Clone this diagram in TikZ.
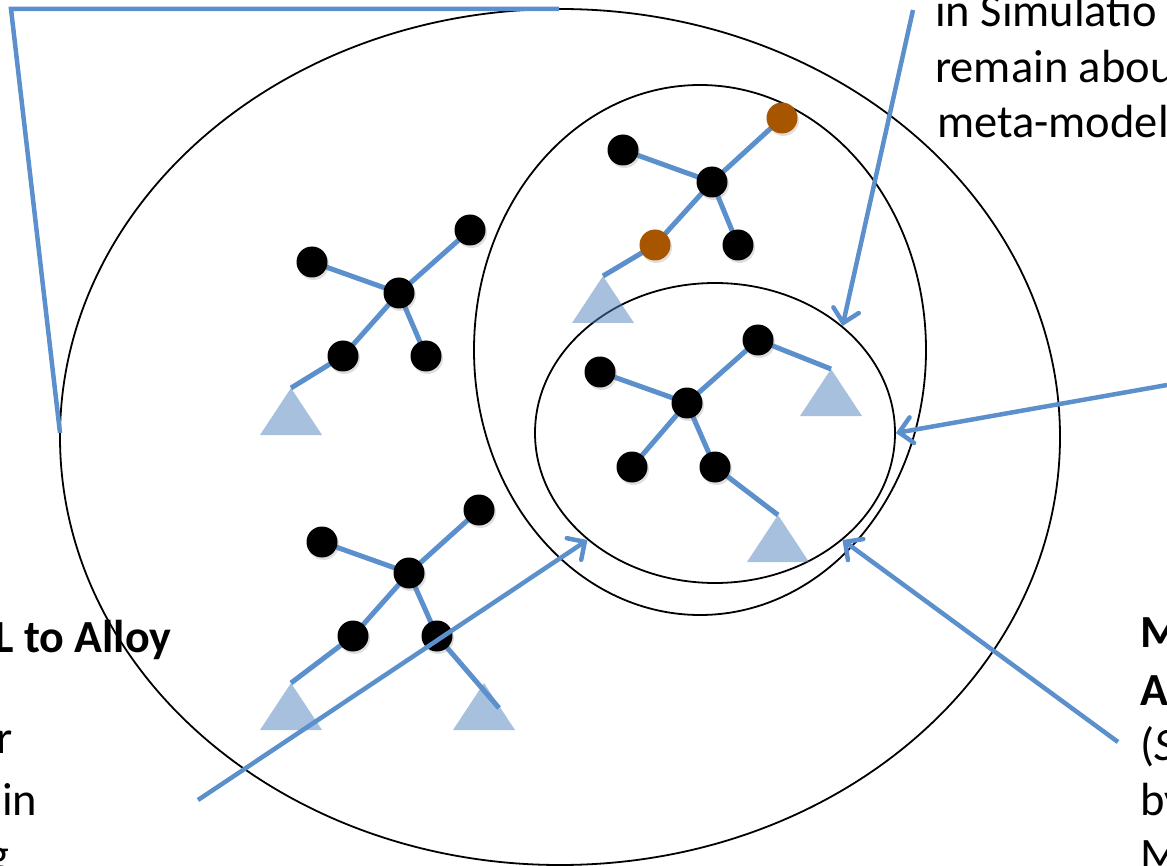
\documentclass[tikz,border=0pt]{standalone}
\usepackage{fontspec}
\setmainfont{Carlito}
\usetikzlibrary{arrows.meta,shapes.geometric,shadows}
\definecolor{lblue}{RGB}{91,144,204}
\definecolor{tblue}{RGB}{79,129,189}
\definecolor{ornode}{RGB}{168,85,0}
\pgfdeclarelayer{bg}
\pgfsetlayers{bg,main}
\newcommand{\mytri}[3]{\coordinate (#1) at (#2,#3);
  \fill[tri] (#1) -- ++(31,47) -- ++(-62,0) -- cycle;}
\begin{document}
\begin{tikzpicture}[x=1pt,y=-1pt,
  dot/.style={circle,fill=black,minimum size=31pt,inner sep=0pt,
    drop shadow={shadow xshift=1.5pt,shadow yshift=-2.5pt,opacity=0.25}},
  odot/.style={dot,fill=ornode},
  edge/.style={draw=lblue,line width=5pt},
  ring/.style={draw=black,line width=1.8pt,ellipse,inner sep=0pt},
  callout/.style={draw=lblue,line width=4.5pt},
  arr/.style={callout,-{Straight Barb[length=13pt,width=26pt,line cap=round]}},
  tri/.style={fill=tblue,fill opacity=0.5},
  txt/.style={font=\fontsize{46.5}{55}\selectfont,anchor=base west,inner sep=0pt},
  btxt/.style={font=\fontsize{46}{55}\selectfont\bfseries,anchor=base west,inner sep=0pt}
]
\useasboundingbox (0,0) rectangle (1167,866);
\begin{pgfonlayer}{bg}
\node[ring,minimum width=1000pt,minimum height=856pt] (outer) at (560,437) {};
\node[ring,minimum width=452pt,minimum height=530pt] (middle) at (700,350) {};
\node[ring,minimum width=360pt,minimum height=300pt] (inner) at (715,433) {};
\mytri{a1}{291}{388}
\mytri{a2}{291}{683}
\mytri{a3}{484}{683}
\mytri{a4}{603}{276}
\mytri{a5}{831}{369}
\mytri{a6}{778}{515}
\coordinate (e2) at (499,708);
\end{pgfonlayer}
% tree 1
\node[dot] (c1) at (399,293) {};
\node[dot] (tl1) at (312,262) {};
\node[dot] (tr1) at (470,230) {};
\node[dot] (ll1) at (343,356) {};
\node[dot] (lr1) at (426,356) {};
% tree 2
\node[dot] (c2) at (409,573) {};
\node[dot] (tl2) at (322,542) {};
\node[dot] (tr2) at (479,510) {};
\node[dot] (ll2) at (353,636) {};
\node[dot] (lr2) at (437,636) {};
% tree 3
\node[dot] (c3) at (712,182) {};
\node[dot] (tl3) at (623,150) {};
\node[odot] (tr3) at (782,118) {};
\node[odot] (ll3) at (655,245) {};
\node[dot] (lr3) at (738,245) {};
% tree 4
\node[dot] (c4) at (687,403) {};
\node[dot] (tl4) at (600,372) {};
\node[dot] (tr4) at (758,340) {};
\node[dot] (ll4) at (632,467) {};
\node[dot] (lr4) at (715,467) {};
\begin{pgfonlayer}{bg}
\foreach \t in {1,2,3,4}{
  \draw[edge] (c\t.center) -- (tl\t.center);
  \draw[edge] (c\t.center) -- (tr\t.center);
  \draw[edge] (c\t.center) -- (ll\t.center);
  \draw[edge] (c\t.center) -- (lr\t.center);
}
\draw[edge] (ll1.center) -- (a1);
\draw[edge] (ll2.center) -- (a2);
\draw[edge] (lr2.center) -- (e2);
\draw[edge] (ll3.center) -- (a4);
\draw[edge] (tr4.center) -- (a5);
\draw[edge] (lr4.center) -- (a6);
\end{pgfonlayer}
% callouts
\coordinate (p1) at (559,9);
\coordinate (p2) at (11,9);
\coordinate (p3) at (60,433);
\draw[callout] (p1) -- (p2) -- (p3);
\coordinate (s1) at (913,10);
\coordinate (s2) at (1167,385);
\coordinate (s3) at (198,800);
\coordinate (s4) at (1118,742);
\draw[arr] (s1) -- (inner.40);
\draw[arr] (s2) -- (inner.0);
\draw[arr] (s3) -- (inner.220);
\draw[arr] (s4) -- (inner.320);
% texts
\node[txt] (t1) at (935,27) {in Simulatio};
\node[txt] (t2) at (935,83) {remain abou};
\node[txt] (t3) at (937,138) {meta-model};
\node[btxt] (l1) at (-6,652) {L to Alloy};
\node[txt] (l2) at (-4,753) {r};
\node[txt] (l3) at (2,815) {in};
\node[txt] (l4) at (-13,870) {g};
\node[btxt] (r1) at (1140,647) {M};
\node[btxt] (r2) at (1140,705) {A};
\node[txt] (r3) at (1140,760) {(\textit{S}};
\node[txt] (r4) at (1140,815) {by};
\node[txt] (r5) at (1140,870) {M};
\end{tikzpicture}
\end{document}
